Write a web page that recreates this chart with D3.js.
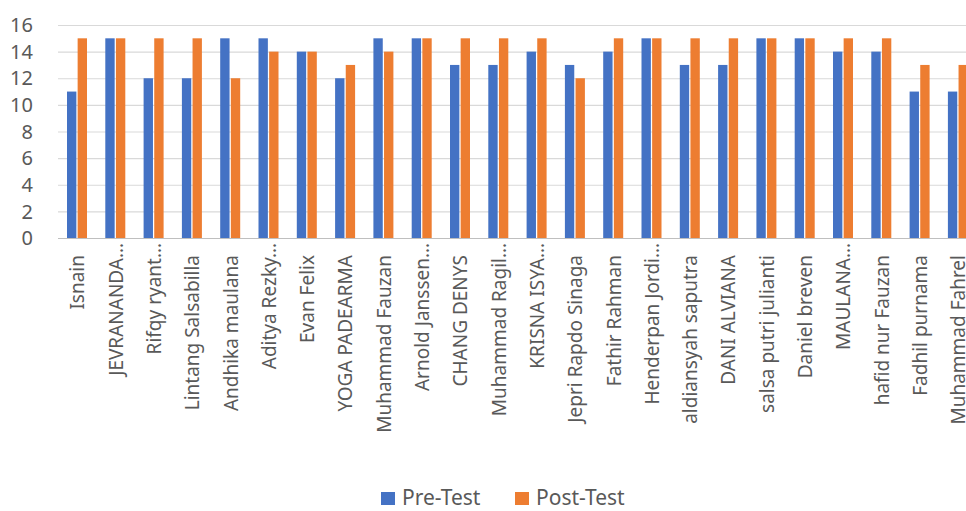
<!DOCTYPE html>
<html><head><meta charset="utf-8">
<script src="https://cdn.jsdelivr.net/npm/d3@7"></script>
<style>body{margin:0;background:#fff}svg{display:block}text{font-family:"Noto Sans","Open Sans",sans-serif;fill:#595959}</style>
</head><body><svg id="c" width="966" height="511"></svg>
<script>
const categories = ["Isnain","JEVRANANDA…","Rifqy ryant…","Lintang Salsabilla","Andhika maulana","Aditya Rezky…","Evan Felix","YOGA PADEARMA","Muhammad Fauzan","Arnold Janssen…","CHANG DENYS","Muhammad Ragil…","KRISNA ISYA…","Jepri Rapdo Sinaga","Fathir Rahman","Henderpan Jordi…","aldiansyah saputra","DANI ALVIANA","salsa putri julianti","Daniel breven","MAULANA…","hafid nur Fauzan","Fadhil purnama","Muhammad Fahrel"];
const preTest  = [11,15,12,12,15,15,14,12,15,15,13,13,14,13,14,15,13,13,15,15,14,14,11,11];
const postTest = [15,15,15,15,12,14,14,13,14,15,15,15,15,12,15,15,15,15,15,15,15,15,13,13];
const seriesNames = ["Pre-Test","Post-Test"];
const colors = ["#4472C4","#ED7D31"];
const yTicks = [0,2,4,6,8,10,12,14,16];

const svg = d3.select("#c");
const left = 58, step = 38.3;
const x = d3.scaleBand().domain(categories).range([left, left + step*categories.length]).padding(0);
const xs = d3.scaleBand().domain(seriesNames).range([9, 29]).paddingInner(0.12);
const y = d3.scaleLinear().domain([0,16]).range([238, 25]);

// gridlines
svg.append("g").selectAll("line").data(yTicks).join("line")
  .attr("x1", left).attr("x2", 966)
  .attr("y1", d=>y(d)+0.5).attr("y2", d=>y(d)+0.5)
  .attr("stroke", d=> d===0 ? "#bfbfbf" : "#d9d9d9").attr("stroke-width", 1.2);

// y labels
svg.append("g").selectAll("text").data(yTicks).join("text")
  .attr("x", 33).attr("y", d=>y(d)).attr("dy","0.36em")
  .attr("text-anchor","end").style("font-size","20px").text(d=>d);

// bars
const data = categories.map((c,i)=>({c, vals:[preTest[i], postTest[i]]}));
const g = svg.append("g").selectAll("g").data(data).join("g")
  .attr("transform", d=>`translate(${x(d.c)},0)`);
g.selectAll("rect").data(d=>d.vals.map((v,j)=>({k:seriesNames[j], v, j})))
  .join("rect")
  .attr("x", d=>xs(d.k)).attr("width", xs.bandwidth())
  .attr("y", d=>y(d.v)).attr("height", d=>y(0)-y(d.v))
  .attr("fill", d=>colors[d.j]);

// category labels
svg.append("g").selectAll("text").data(categories).join("text")
  .attr("transform", d=>{
    const cx = x(d) + 19.5;
    const ty = d.endsWith("…") ? 243 : 255;
    return `translate(${cx},${ty}) rotate(-90)`;
  })
  .attr("text-anchor","end").attr("dy","0.36em")
  .style("font-size","19px").text(d=>d);

// legend
const leg = svg.append("g");
const legItems = [{n:"Pre-Test", x:381},{n:"Post-Test", x:515}];
legItems.forEach((it,i)=>{
  leg.append("rect").attr("x", it.x).attr("y", 492).attr("width", 14).attr("height", 13).attr("fill", colors[i]);
  leg.append("text").attr("x", it.x+21).attr("y", 505).style("font-size","21px").text(it.n);
});
</script></body></html>
